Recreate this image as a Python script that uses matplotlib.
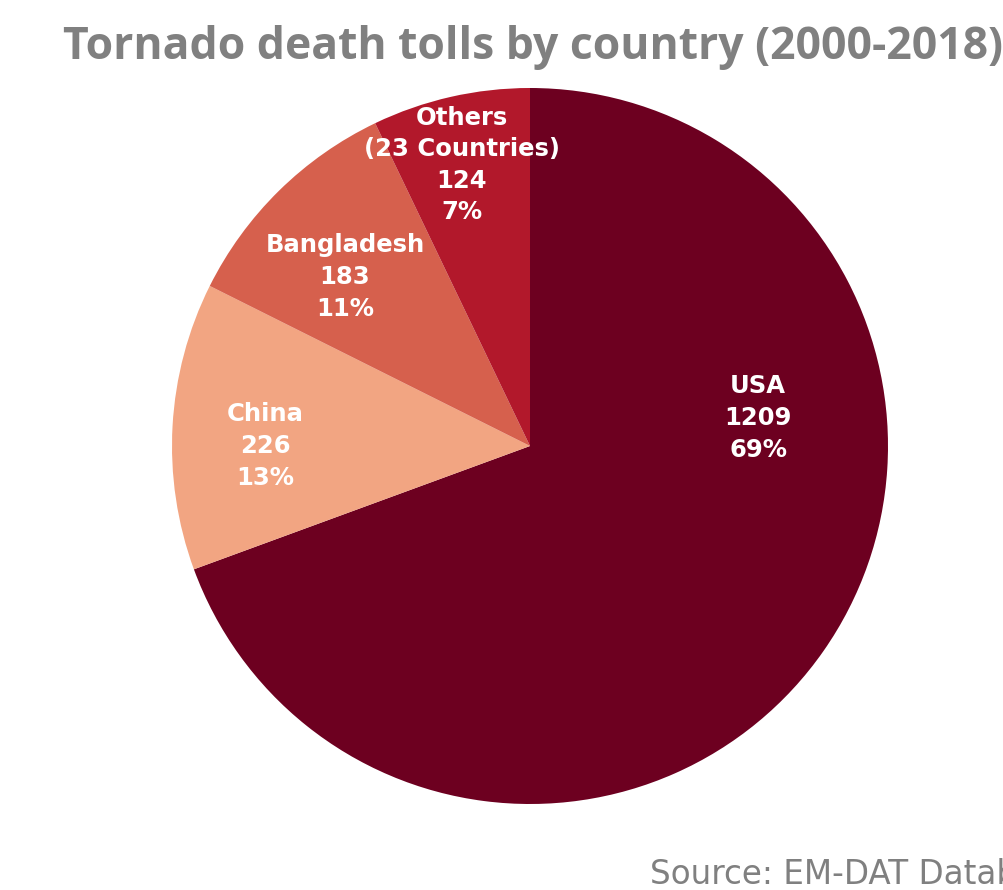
import matplotlib.pyplot as plt

# data
countries = ["USA", "China", "Bangladesh", "Others\n(23 Countries)"]
deaths = [1209, 226, 183, 124]
pcts = ["69%", "13%", "11%", "7%"]
colors = ["#6D0020", "#F2A582", "#D6604D", "#B2182B"]

# label spots inside the pie (axes data units, radius 1)
label_xy = [(0.637, 0.078), (-0.74, 0.0), (-0.517, 0.472), (-0.19, 0.785)]

plt.rcParams['font.family'] = ['DejaVu Sans']

fig = plt.figure(figsize=(10.04, 8.9), dpi=100)
ax = fig.add_axes([172/1004, 86/890, 716/1004, 716/890])

ax.pie(deaths, colors=colors, startangle=90, counterclock=False,
       radius=1, wedgeprops=dict(linewidth=0))
ax.set_xlim(-1, 1)
ax.set_ylim(-1, 1)
ax.set_aspect('equal')
ax.axis('off')

for name, n, p, (x, y) in zip(countries, deaths, pcts, label_xy):
    ax.text(x, y, name + "\n" + str(n) + "\n" + p, ha='center', va='center',
            color='white', fontsize=17.5, fontweight='bold', linespacing=1.4)

fig.text(63/1004, 1 - 58.5/890, "Tornado death tolls by country (2000-2018)",
         ha='left', va='baseline', color='#808080', fontsize=32,
         fontweight='bold', family=['Open Sans', 'DejaVu Sans'])
fig.text(650/1004, 1 - 884/890, "Source: EM-DAT Database",
         ha='left', va='baseline', color='#808080', fontsize=23.5)

fig.savefig("out.png", dpi=100)
